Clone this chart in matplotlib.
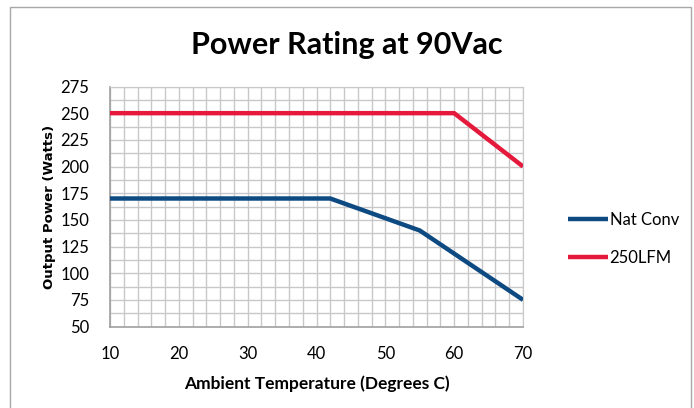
import matplotlib
matplotlib.use("Agg")
import matplotlib.pyplot as plt
from matplotlib.patches import Rectangle
import numpy as np

plt.rcParams['font.family'] = ['Lato', 'DejaVu Sans']

nat_x = [10, 42, 55, 70]
nat_y = [170, 170, 140, 75]
lfm_x = [10, 60, 70]
lfm_y = [250, 250, 200]
x_ticks = [10, 20, 30, 40, 50, 60, 70]
y_ticks = [50, 75, 100, 125, 150, 175, 200, 225, 250, 275]

fig = plt.figure(figsize=(6.94, 4.08), dpi=100)
ax = fig.add_axes([110/694, 1-326.5/408, (523-110)/694, (326.5-86.5)/408])

ax.plot(nat_x, nat_y, color='#0e4a82', lw=3.2, label='Nat Conv', solid_capstyle='butt', zorder=3)
ax.plot(lfm_x, lfm_y, color='#e4193b', lw=3.2, label='250LFM', solid_capstyle='butt', zorder=3)

ax.set_xlim(10, 70)
ax.set_ylim(50, 275)
ax.set_xticks(x_ticks)
ax.set_yticks(y_ticks)
ax.set_xticks(np.arange(10, 70.1, 2), minor=True)
ax.set_yticks(np.arange(50, 275.1, 12.5), minor=True)
ax.grid(which='both', color='#c8c8c8', lw=1.0, zorder=0)
ax.tick_params(which='both', length=0)
ax.tick_params(axis='x', labelsize=12, pad=14)
ax.tick_params(axis='y', labelsize=12, pad=15)
for s in ['top', 'right']:
    ax.spines[s].set_color('#c8c8c8')
for s in ['left', 'bottom']:
    ax.spines[s].set_color('#a0a0a0')
    ax.spines[s].set_linewidth(1.2)

ax.set_xlabel('Ambient Temperature (Degrees C)', fontsize=12.5, fontweight='bold', labelpad=10)
ax.set_ylabel('Output Power (Watts)', fontsize=9.5, fontweight='bold', family='DejaVu Sans', labelpad=3)

fig.text(0.5, 1-45/408, 'Power Rating at 90Vac', ha='center', va='center', fontsize=22, fontweight='bold')

leg = fig.legend(loc='center left', bbox_to_anchor=(553/694, 1-239/408), frameon=False,
                 fontsize=12, handlelength=2.4, handletextpad=0.1, labelspacing=1.3)

fig.add_artist(Rectangle((10/694, -0.01), (691-10)/694, 1-7/408+0.01, transform=fig.transFigure,
                         fill=False, edgecolor='#a8a8a8', lw=1.0))

fig.savefig('out.png', dpi=100)
